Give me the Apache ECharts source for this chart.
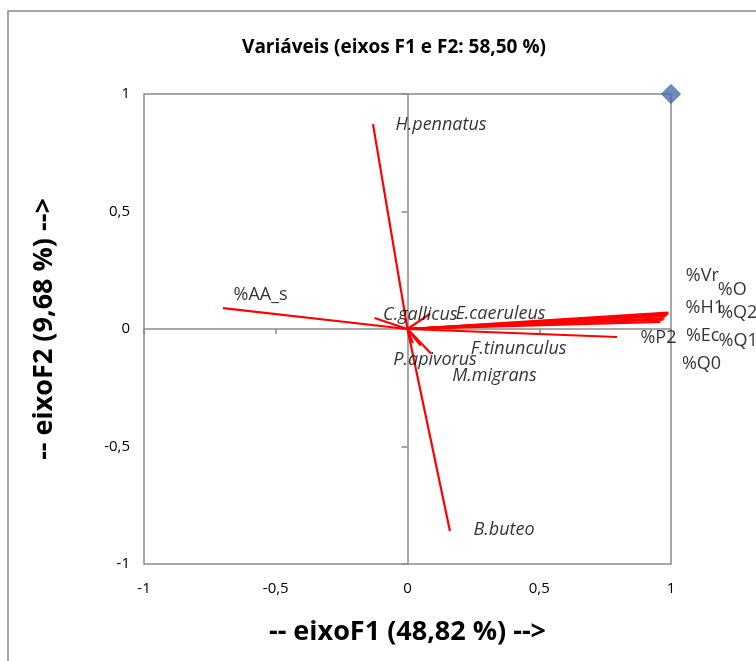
<!DOCTYPE html>
<html>
<head>
<meta charset="utf-8">
<title>Variáveis (eixos F1 e F2)</title>
<script src="https://cdn.jsdelivr.net/npm/echarts@6/dist/echarts.min.js"></script>
<style>
  html, body { margin: 0; padding: 0; background: #ffffff; }
  #chart { width: 756px; height: 661px; }
</style>
</head>
<body>
<div id="chart"></div>
<script>
// Variable names and their loadings on F1 / F2 (correlation circle)
const variables = ['H.pennatus', '%AA_s', 'C.gallicus', 'E.caeruleus', 'F.tinunculus', 'P.apivorus',
  'M.migrans', 'B.buteo', '%Vr', '%O', '%H1', '%Q2', '%Ec', '%Q1', '%Q0', '%P2'];
const f1 = [-0.131, -0.700, -0.125, 0.085, 0.090, 0.020, 0.050, 0.161, 0.990, 0.990, 0.985, 0.980, 0.975, 0.970, 0.960, 0.795];
const f2 = [0.872, 0.089, 0.047, 0.064, -0.105, -0.060, -0.070, -0.860, 0.070, 0.065, 0.060, 0.055, 0.045, 0.040, 0.030, -0.034];

// Helper point that pins the upper-right corner of the plot
const cornerPoint = [[1, 1]];

// Axis tick values (both axes)
const tickValues = [-1, -0.5, 0, 0.5, 1];

// Hand-placed label nudges in pixels [dx, dy] from each arrow tip
const labelNudge = {
  'H.pennatus': [22, 1], '%AA_s': [10, -13], 'C.gallicus': [8, -3], 'E.caeruleus': [25, 0],
  'F.tinunculus': [39, -5], 'P.apivorus': [-20, 17], 'M.migrans': [31, 30], 'B.buteo': [23, -1],
  '%Vr': [17, -37], '%O': [49, -24], '%H1': [18, -7], '%Q2': [52, -3],
  '%Ec': [21, 17], '%Q1': [55, 21], '%Q0': [21, 42], '%P2': [23, 1]
};

const FONT = '"Open Sans", "Liberation Sans", sans-serif';
const GRAY = '#8a8a8a';
const fmt = v => String(v).replace('.', ',');

const axisRange = { min: tickValues[0], max: tickValues[tickValues.length - 1], interval: 0.5 };

// One line per variable, from the origin to its loading
const vectorSeries = variables.map((name, i) => ({
  type: 'line',
  name: name,
  xAxisIndex: 0, yAxisIndex: 0,
  data: [[0, 0], [f1[i], f2[i]]],
  symbol: 'none',
  silent: true,
  z: 3,
  lineStyle: { color: '#ff0000', width: 2.2 }
}));

const labelSeries = {
  type: 'scatter',
  xAxisIndex: 0, yAxisIndex: 0,
  symbolSize: 1,
  silent: true,
  z: 4,
  itemStyle: { color: 'rgba(0,0,0,0)' },
  label: {
    show: true, position: 'right', distance: 0,
    formatter: p => p.name, color: '#000', fontSize: 18, fontFamily: FONT
  },
  data: variables.map((name, i) => ({
    name: name,
    value: [f1[i], f2[i]],
    label: {
      offset: labelNudge[name] || [0, 0],
      fontStyle: name.charAt(0) === '%' ? 'normal' : 'italic'
    }
  }))
};

const cornerSeries = {
  type: 'scatter',
  xAxisIndex: 0, yAxisIndex: 0,
  symbol: 'diamond',
  symbolSize: 19,
  silent: true,
  z: 5,
  itemStyle: { color: '#4672ab', borderColor: '#3b6397', borderWidth: 1 },
  data: cornerPoint
};

const chart = echarts.init(document.getElementById('chart'), null, { renderer: 'canvas' });
chart.setOption({
  animation: false,
  backgroundColor: '#ffffff',
  title: {
    text: 'Variáveis (eixos F1 e F2: 58,50 %)',
    left: 389, top: 33, textAlign: 'center',
    textStyle: { fontFamily: FONT, fontSize: 19, fontWeight: 'bold', color: '#000' }
  },
  graphic: [{
    type: 'rect', silent: true,
    shape: { x: 8, y: 11, width: 900, height: 900 },
    style: { fill: 'none', stroke: GRAY, lineWidth: 1.5 }
  }],
  grid: {
    left: 144, right: 85, top: 94, bottom: 97,
    containLabel: false, outerBoundsMode: 'none',
    show: true, borderColor: GRAY, borderWidth: 1.5, backgroundColor: 'transparent'
  },
  xAxis: [
    // axis line through y = 0 with downward ticks
    Object.assign({
      type: 'value', position: 'bottom',
      axisLine: { show: true, onZero: true, lineStyle: { color: GRAY, width: 1.5 } },
      axisTick: { show: true, inside: false, length: 5, lineStyle: { color: GRAY, width: 1.5 } },
      axisLabel: { show: false },
      splitLine: { show: false }
    }, axisRange),
    // tick labels and title along the bottom edge
    Object.assign({
      type: 'value', position: 'bottom',
      name: '-- eixoF1 (48,82 %) -->', nameLocation: 'middle', nameGap: 55,
      nameTextStyle: { fontFamily: FONT, fontSize: 27, fontWeight: 'bold', color: '#000' },
      axisLine: { show: false, onZero: false },
      axisTick: { show: false },
      axisLabel: { show: true, margin: 17, fontFamily: FONT, fontSize: 15, color: '#000', formatter: fmt },
      splitLine: { show: false }
    }, axisRange)
  ],
  yAxis: [
    Object.assign({
      type: 'value', position: 'left',
      axisLine: { show: true, onZero: true, lineStyle: { color: GRAY, width: 1.5 } },
      axisTick: { show: true, inside: false, length: 6, lineStyle: { color: GRAY, width: 1.5 } },
      axisLabel: { show: false },
      splitLine: { show: false }
    }, axisRange),
    Object.assign({
      type: 'value', position: 'left',
      name: '-- eixoF2 (9,68 %) -->', nameLocation: 'middle', nameGap: 86,
      nameTextStyle: { fontFamily: FONT, fontSize: 27, fontWeight: 'bold', color: '#000' },
      axisLine: { show: false, onZero: false },
      axisTick: { show: false },
      axisLabel: { show: true, margin: 14, fontFamily: FONT, fontSize: 15, color: '#000', formatter: fmt },
      splitLine: { show: false }
    }, axisRange)
  ],
  series: vectorSeries.concat([labelSeries, cornerSeries])
});
</script>
</body>
</html>
